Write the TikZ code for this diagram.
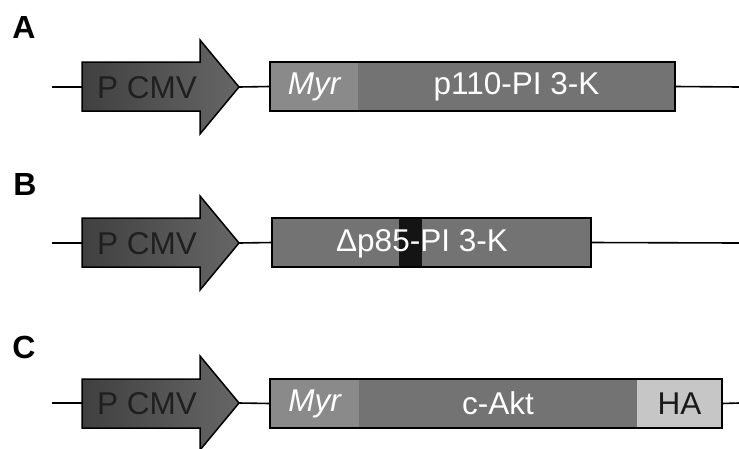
\documentclass[tikz,border=0pt]{standalone}
\usepackage{fontspec}
\setmainfont{Liberation Sans}
\definecolor{promL}{HTML}{404040}
\definecolor{promR}{HTML}{666666}
\definecolor{genegray}{HTML}{737373}
\definecolor{myrgray}{HTML}{8A8A8A}
\definecolor{hagray}{HTML}{C6C6C6}
\definecolor{bandblack}{HTML}{141414}
\tikzset{
  wire/.style={draw=black, line width=1.6pt},
  promoter/.style={draw=black, line width=1.5pt, line join=miter, left color=promL, right color=promR},
  outline/.style={draw=black, line width=1.5pt, fill=none},
  pcmvtext/.style={font=\fontsize{31.5}{31.5}\selectfont, text=black!88, inner sep=0pt},
  boxtext/.style={font=\fontsize{31.5}{31.5}\selectfont, text=white, inner sep=0pt},
  hatext/.style={font=\fontsize{31.5}{31.5}\selectfont, text=black!90, inner sep=0pt},
  panel/.style={font=\fontsize{32}{32}\selectfont\bfseries, inner sep=0pt},
  segment/.style={rectangle, inner sep=0pt, outer sep=0pt, anchor=north west}
}
\begin{document}
\begin{tikzpicture}[x=1pt,y=-1pt]
\useasboundingbox (0,0) rectangle (739,448);

% ---------------- A ----------------
\node[panel] (labA) at (24,27) {A};
\coordinate (a0) at (52,87);
\coordinate (abase) at (82,87);
\coordinate (atip) at (239,87);
\coordinate (aend) at (739,87);
\draw[promoter] (82,62) -- (200,62) -- (200,40) -- (239,87) -- (200,134) -- (200,111) -- (82,111) -- cycle;
\node[pcmvtext] (pa) at (147,88) {P CMV};
\node[segment, fill=myrgray, minimum width=88pt, minimum height=49pt] (amyr) at (270,62) {};
\node[segment, fill=genegray, minimum width=317pt, minimum height=49pt] (agene) at (358,62) {};
\draw[outline] (amyr.north west) rectangle (agene.south east);
\node[boxtext] at (amyr.center) {\itshape Myr};
\node[boxtext] at (agene.center) {p110-PI 3-K};
\draw[wire] (a0) -- (abase);
\draw[wire] (atip) -- (amyr.west);
\draw[wire] (agene.east) -- (aend);

% ---------------- B ----------------
\node[panel] (labB) at (25,184) {B};
\coordinate (b0) at (52,243);
\coordinate (bbase) at (82,243);
\coordinate (btip) at (239,243);
\coordinate (bend) at (739,243);
\draw[promoter] (82,218) -- (200,218) -- (200,196) -- (239,243) -- (200,290) -- (200,267) -- (82,267) -- cycle;
\node[pcmvtext] (pb) at (147,244) {P CMV};
\node[segment, fill=genegray, minimum width=127pt, minimum height=49pt] (bleft) at (272,218) {};
\node[segment, fill=bandblack, minimum width=23pt, minimum height=49pt] (bband) at (399,218) {};
\node[segment, fill=genegray, minimum width=169pt, minimum height=49pt] (bright) at (422,218) {};
\draw[outline] (bleft.north west) rectangle (bright.south east);
\node[boxtext] at (422,244) {Δp85-PI 3-K};
\draw[wire] (b0) -- (bbase);
\draw[wire] (btip) -- (bleft.west);
\draw[wire] (bright.east) -- (bend);

% ---------------- C ----------------
\node[panel] (labC) at (24,347) {C};
\coordinate (c0) at (52,403);
\coordinate (cbase) at (82,403);
\coordinate (ctip) at (239,403);
\coordinate (cend) at (739,403);
\draw[promoter] (82,379) -- (200,379) -- (200,356) -- (239,403) -- (200,450) -- (200,428) -- (82,428) -- cycle;
\node[pcmvtext] (pc) at (147,404) {P CMV};
\node[segment, fill=myrgray, minimum width=89pt, minimum height=49pt] (cmyr) at (270,379) {};
\node[segment, fill=genegray, minimum width=278pt, minimum height=49pt] (cakt) at (359,379) {};
\node[segment, fill=hagray, minimum width=85pt, minimum height=49pt] (cha) at (637,379) {};
\draw[outline] (cmyr.north west) rectangle (cha.south east);
\node[boxtext] at (cmyr.center) {\itshape Myr};
\node[boxtext] at (cakt.center) {c-Akt};
\node[hatext] at (cha.center) {HA};
\draw[wire] (c0) -- (cbase);
\draw[wire] (ctip) -- (cmyr.west);
\draw[wire] (cha.east) -- (cend);
\end{tikzpicture}
\end{document}
